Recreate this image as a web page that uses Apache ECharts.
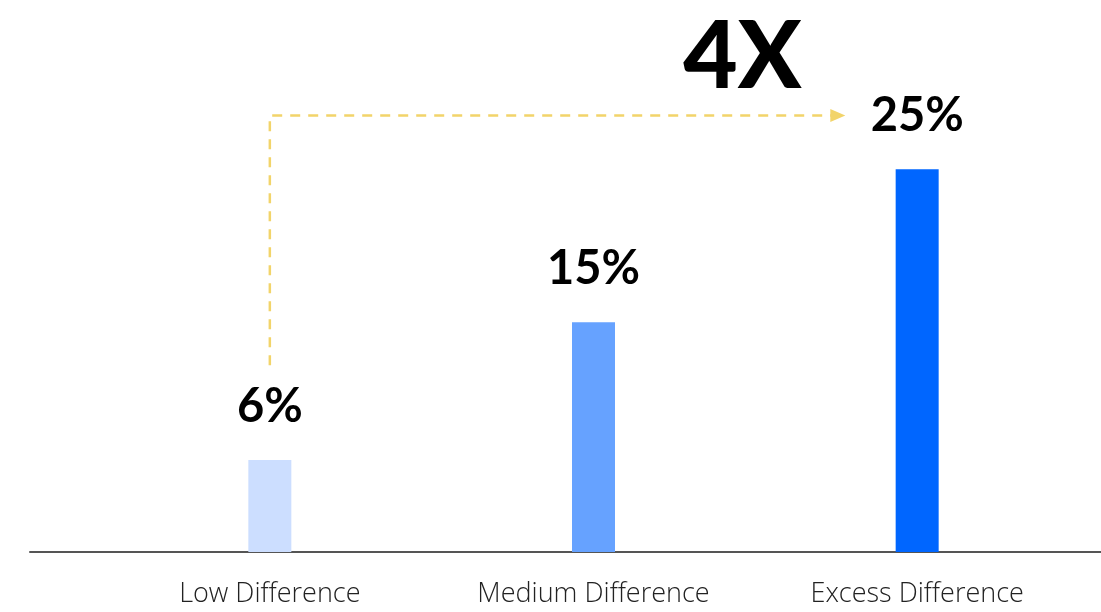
<!DOCTYPE html>
<html><head><meta charset="utf-8">
<script src="https://cdn.jsdelivr.net/npm/echarts@6/dist/echarts.min.js"></script>
<style>html,body{margin:0;padding:0;background:#fff}#c{width:1101px;height:612px}</style>
</head><body><div id="c"></div>
<script>
const categories = ['Low Difference', 'Medium Difference', 'Excess Difference'];
const values = [6, 15, 25];
const barColors = ['#CCDEFF', '#66A2FF', '#0066FF'];
const headline = '4X';
// dashed arrow path in data space: [category position (fractional), value]
const arrowPath = [[0, 12.2], [0, 28.5], [1.778, 28.5]];
const headlinePos = [1.46, 32.3];

const chart = echarts.init(document.getElementById('c'));
const Y_MAX = 35;
chart.setOption({
  animation: false,
  grid: [
    { left: 108, right: 22, top: 16, bottom: 60 },
    { left: 30, right: 0, top: 16, bottom: 60 }
  ],
  xAxis: [
    { type: 'category', gridIndex: 0, data: categories,
      axisLine: { show: false }, axisTick: { show: false },
      axisLabel: { color: '#222', fontSize: 27, fontFamily: 'Open Sans', fontWeight: 300, margin: 29 } },
    { type: 'value', gridIndex: 1, min: 0, max: 1, show: true,
      axisLine: { show: true, onZero: false, lineStyle: { color: '#555', width: 2 } },
      axisTick: { show: false }, axisLabel: { show: false }, splitLine: { show: false } }
  ],
  yAxis: [
    { type: 'value', gridIndex: 0, min: 0, max: Y_MAX, show: false },
    { type: 'value', gridIndex: 1, min: 0, max: Y_MAX, show: false }
  ],
  series: [{
    type: 'bar', xAxisIndex: 0, yAxisIndex: 0, barWidth: 43,
    data: values.map((v, i) => ({ value: v, itemStyle: { color: barColors[i] } })),
    label: { show: true, position: 'top', distance: 30, formatter: '{c}%',
      color: '#000', fontSize: 47, fontWeight: 'bold', fontFamily: 'Lato' }
  }]
});

function toPx(p) {
  const i0 = Math.floor(p[0]), i1 = Math.min(i0 + 1, categories.length - 1);
  const a = chart.convertToPixel({ xAxisIndex: 0, yAxisIndex: 0 }, [i0, p[1]]);
  const b = chart.convertToPixel({ xAxisIndex: 0, yAxisIndex: 0 }, [i1, p[1]]);
  const t = p[0] - i0;
  return [a[0] + (b[0] - a[0]) * t, a[1]];
}
function drawOverlay() {
  const pts = arrowPath.map(toPx);
  const end = pts[pts.length - 1];
  const hp = toPx(headlinePos);
  chart.setOption({
    graphic: [
      { type: 'polyline', shape: { points: pts.map((p, i) => i === pts.length - 1 ? [p[0] - 14, p[1]] : p) },
        style: { stroke: '#F2D46A', lineWidth: 2.5, lineDash: [10, 8], fill: null } },
      { type: 'polygon', shape: { points: [[end[0], end[1]], [end[0] - 15, end[1] - 6.5], [end[0] - 15, end[1] + 6.5]] },
        style: { fill: '#F2D46A' } },
      { type: 'text', x: hp[0], y: hp[1],
        style: { text: headline, font: '900 94px Lato', fill: '#000', align: 'center', verticalAlign: 'middle' } }
    ]
  });
}
drawOverlay();
</script>
</body></html>
